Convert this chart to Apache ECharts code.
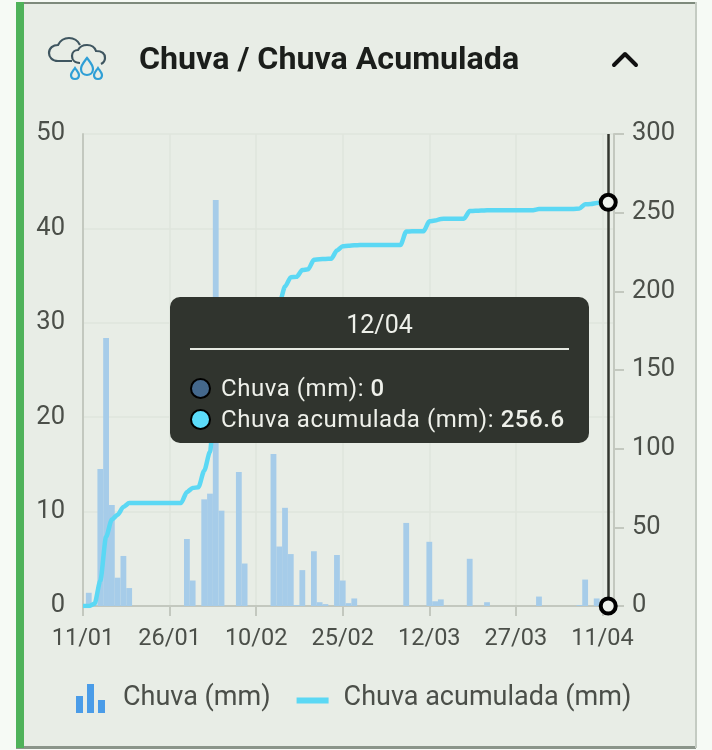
<!DOCTYPE html>
<html><head><meta charset="utf-8">
<style>html,body{margin:0;padding:0;background:#f6faf5;width:712px;height:750px;overflow:hidden}
#c{position:absolute;left:0;top:0;width:712px;height:750px}
#ic{position:absolute;left:0;top:0;z-index:5}</style>
<script src="https://cdn.jsdelivr.net/npm/echarts@6/dist/echarts.min.js"></script>
</head><body><div id="c"></div>
<svg id="ic" width="120" height="90" viewBox="0 0 120 90" fill="none" stroke-width="2.2">
<path stroke="#3f5660" d="M72 61H58C52 61 49 57 49 53C49 48 53 45 58 45C60 41 64 38 69 38C74 38 78 41 80 45"/>
<path stroke="#3f5660" d="M80 63C74 63 72 59 72 56C72 52 75 50 78 50C80 46 84 45 87 45C92 45 95 48 96 51C101 51 105 53 105 58C105 61 103 63 101 64"/>
<path stroke="#2f9fd6" d="M87 58C84 62 81 65 81 69C81 73 84 75 87 75C90 75 93 73 93 69C93 65 90 62 87 58Z"/>
<path stroke="#2f9fd6" d="M75 68C73 71 71 73 71 75C71 78 73 79 75 79C77 79 79 78 79 75C79 73 77 71 75 68Z"/>
<path stroke="#2f9fd6" d="M98 68C96 71 94 73 94 75C94 78 96 79 98 79C100 79 102 78 102 75C102 73 100 71 98 68Z"/>
</svg>
<script>
const titleText = 'Chuva / Chuva Acumulada';
const seriesRain = 'Chuva (mm)';
const seriesAccum = 'Chuva acumulada (mm)';
const categories = [
'11/01','12/01','13/01','14/01','15/01','16/01','17/01','18/01','19/01','20/01','21/01','22/01','23/01','24/01','25/01','26/01','27/01','28/01','29/01','30/01','31/01',
'01/02','02/02','03/02','04/02','05/02','06/02','07/02','08/02','09/02','10/02','11/02','12/02','13/02','14/02','15/02','16/02','17/02','18/02','19/02','20/02','21/02','22/02','23/02','24/02','25/02','26/02','27/02','28/02',
'01/03','02/03','03/03','04/03','05/03','06/03','07/03','08/03','09/03','10/03','11/03','12/03','13/03','14/03','15/03','16/03','17/03','18/03','19/03','20/03','21/03','22/03','23/03','24/03','25/03','26/03','27/03','28/03','29/03','30/03','31/03',
'01/04','02/04','03/04','04/04','05/04','06/04','07/04','08/04','09/04','10/04','11/04','12/04','13/04'];
const rain = [
0,1.4,0,14.5,28.4,10.7,3,5.3,1.9,0,0,0,0,0,0,0,0,0,7.1,2.7,0,
11.3,11.9,43,10.1,0,0,14.2,4.5,0,0,0,0,16.1,6.3,10.4,5.5,0.1,3.8,0,5.8,0.4,0.2,0,5.4,2.7,0.3,0.8,0,
0,0,0,0,0,0,0,8.8,0,0,0,6.8,0.5,0.7,0,0,0,0,5,0,0,0.4,0,0,0,0,0,0,0,0,1,
0,0,0,0,0,0,0.1,2.8,0,0.8,0.2,0,null];
const accum = [
0,0,1.4,16,44,55,58,63,65.4,65.5,65.5,65.5,65.5,65.5,65.5,65.5,65.5,65.5,72.5,75,75.5,
86,98,141,151,151,151,165,170,170,170,170,170,186,192,203,209,209.2,213.5,214,220,220.4,220.6,220.7,226,228.7,229,229.3,229.4,
229.4,229.4,229.4,229.4,229.4,229.4,229.4,238,238.2,238.2,238.2,244.5,245,246,246.2,246.2,246.2,246.2,251,251.2,251.3,251.5,251.6,251.6,251.6,251.6,251.6,251.6,251.6,251.6,252.3,
252.4,252.4,252.4,252.4,252.4,252.4,252.6,255.3,255.5,256.2,256.4,256.6,null];
const selectedIndex = 91;
const labelStep = 15;
const leftTicks = {min:0,max:50,interval:10};
const rightTicks = {min:0,max:300,interval:50};

const FONT = 'Roboto';
const every = (i) => i % labelStep === 0;
const chart = echarts.init(document.getElementById('c'), null, {renderer:'canvas', width:712, height:750});
const marker = (coord) => ({symbol:'circle', symbolSize:15, silent:true, animation:false,
  itemStyle:{color:'#eef2ec', borderColor:'#000', borderWidth:4}, label:{show:false},
  data:[{coord:coord}]});
const barIcon = 'path://M0 12h7v17h-7z M11 0h7v29h-7z M22 16h7v13h-7z M32 29h.01v.01h-.01z';
const lineIcon = 'path://M0 0h.01v.01h-.01z M0 13.5h32v6h-32z M32 29h.01v.01h-.01z';
const dot = (c) => `<span style="display:inline-block;width:17px;height:17px;border-radius:50%;background:${c};border:2px solid #000;box-sizing:content-box;vertical-align:middle;margin-right:10px;position:relative;top:-1px"></span>`;
chart.setOption({
  animation:false,
  backgroundColor:'transparent',
  textStyle:{fontFamily:FONT},
  title:{text:titleText,left:139,top:43,padding:0,textStyle:{fontFamily:FONT,fontSize:32.2,fontWeight:'bold',color:'#1b1e1b',lineHeight:36}},
  graphic:[
    {type:'rect',z:-10,shape:{x:16,y:2,width:680,height:746},style:{fill:'#e8ede6'}},
    {type:'rect',z:-9,shape:{x:16,y:2,width:680,height:2},style:{fill:'#7e8a7c'}},
    {type:'rect',z:-9,shape:{x:16,y:746,width:680,height:3},style:{fill:'#8b958a'}},
    {type:'rect',z:-9,shape:{x:695,y:2,width:2,height:746},style:{fill:'#c4cbc2'}},
    {type:'rect',z:-8,shape:{x:16,y:2,width:8,height:746},style:{fill:'#4fb25a'}},
    {type:'polyline',z:5,shape:{points:[[614,65],[625,54],[636,65]]},style:{fill:'none',stroke:'#111',lineWidth:4,lineCap:'round',lineJoin:'round'}}
  ],
  grid:{left:83,right:98,top:134,bottom:144,containLabel:false},
  legend:{
    left:71,top:679,itemWidth:32,itemHeight:29,itemGap:26,
    textStyle:{fontFamily:FONT,fontSize:27,color:'#4b4f49',padding:[0,0,0,10],letterSpacing:0.6},
    selectedMode:false,
    data:[
      {name:seriesRain,icon:barIcon,itemStyle:{color:'#4a9ce8'}},
      {name:seriesAccum,icon:lineIcon,itemStyle:{color:'#5bd8f4'},lineStyle:{opacity:0}}
    ]
  },
  tooltip:{
    trigger:'axis',
    alwaysShowContent:true,
    transitionDuration:0,
    showDelay:0,
    confine:false,
    backgroundColor:'#30342e',
    borderWidth:0,
    padding:0,
    extraCssText:'border-radius:10px;box-shadow:none;width:419px;height:146px;box-sizing:border-box;padding:0 20px;',
    position:[170,297],
    axisPointer:{type:'line',z:3,lineStyle:{color:'#33362f',width:2.5,type:'solid'},label:{show:false}},
    formatter:function(){
      const i = selectedIndex;
      const row = (c,n,v)=>`<div style="height:31px;line-height:31px;white-space:nowrap;letter-spacing:.55px">${dot(c)}${n}: <b style="font-weight:500">${v}</b></div>`;
      return `<div style="font-family:${FONT};font-size:24px;color:#eef0ea">`+
        `<div style="text-align:center;font-size:25px;height:51px;line-height:56px;border-bottom:2px solid #e6e9e2;margin-bottom:23px">${categories[i]}</div>`+
        row('#44688c',seriesRain,rain[i])+row('#5bdcfa',seriesAccum,accum[i])+`</div>`;
    }
  },
  xAxis:{
    type:'category',data:categories,boundaryGap:false,
    axisLine:{show:true,lineStyle:{color:'#c3c8bf',width:2}},
    axisTick:{show:true,interval:every,length:10,alignWithLabel:true,lineStyle:{color:'#c3c8bf',width:2}},
    axisLabel:{interval:every,fontFamily:FONT,fontSize:23.5,color:'#4b4f49',margin:21,hideOverlap:false},
    splitLine:{show:true,interval:every,lineStyle:{color:'#dfe4dc',width:1.5}}
  },
  yAxis:[
    {type:'value',min:leftTicks.min,max:leftTicks.max,interval:leftTicks.interval,position:'left',
     axisLine:{show:true,lineStyle:{color:'#c3c8bf',width:2}},axisTick:{show:false},
     axisLabel:{fontFamily:FONT,fontSize:25.5,letterSpacing:0.3,color:'#4b4f49',margin:18,padding:[7,0,0,0]},
     splitLine:{show:true,lineStyle:{color:'#dfe4dc',width:1.5}}},
    {type:'value',min:rightTicks.min,max:rightTicks.max,interval:rightTicks.interval,position:'right',
     axisLine:{show:true,lineStyle:{color:'#c3c8bf',width:2}},axisTick:{show:true,length:10,lineStyle:{color:'#c3c8bf',width:2}},
     axisLabel:{fontFamily:FONT,fontSize:25.5,letterSpacing:0.3,color:'#4b4f49',margin:18,padding:[7,0,0,0]},
     splitLine:{show:false}}
  ],
  series:[
    {name:seriesRain,type:'bar',yAxisIndex:0,data:rain,barWidth:5.8,barGap:'0%',
     itemStyle:{color:'#a6cce9'},emphasis:{disabled:true},z:2,
     markPoint:marker([categories[selectedIndex],rain[selectedIndex]])},
    {name:seriesAccum,type:'line',yAxisIndex:1,data:accum,smooth:0.25,smoothMonotone:'x',showSymbol:false,symbol:'none',
     lineStyle:{color:'#5bd8f4',width:4.5},itemStyle:{color:'#5bd8f4'},emphasis:{disabled:true},z:3,
     markPoint:marker([categories[selectedIndex],accum[selectedIndex]])}
  ]
});
chart.dispatchAction({type:'showTip',seriesIndex:0,dataIndex:selectedIndex});
</script></body></html>
